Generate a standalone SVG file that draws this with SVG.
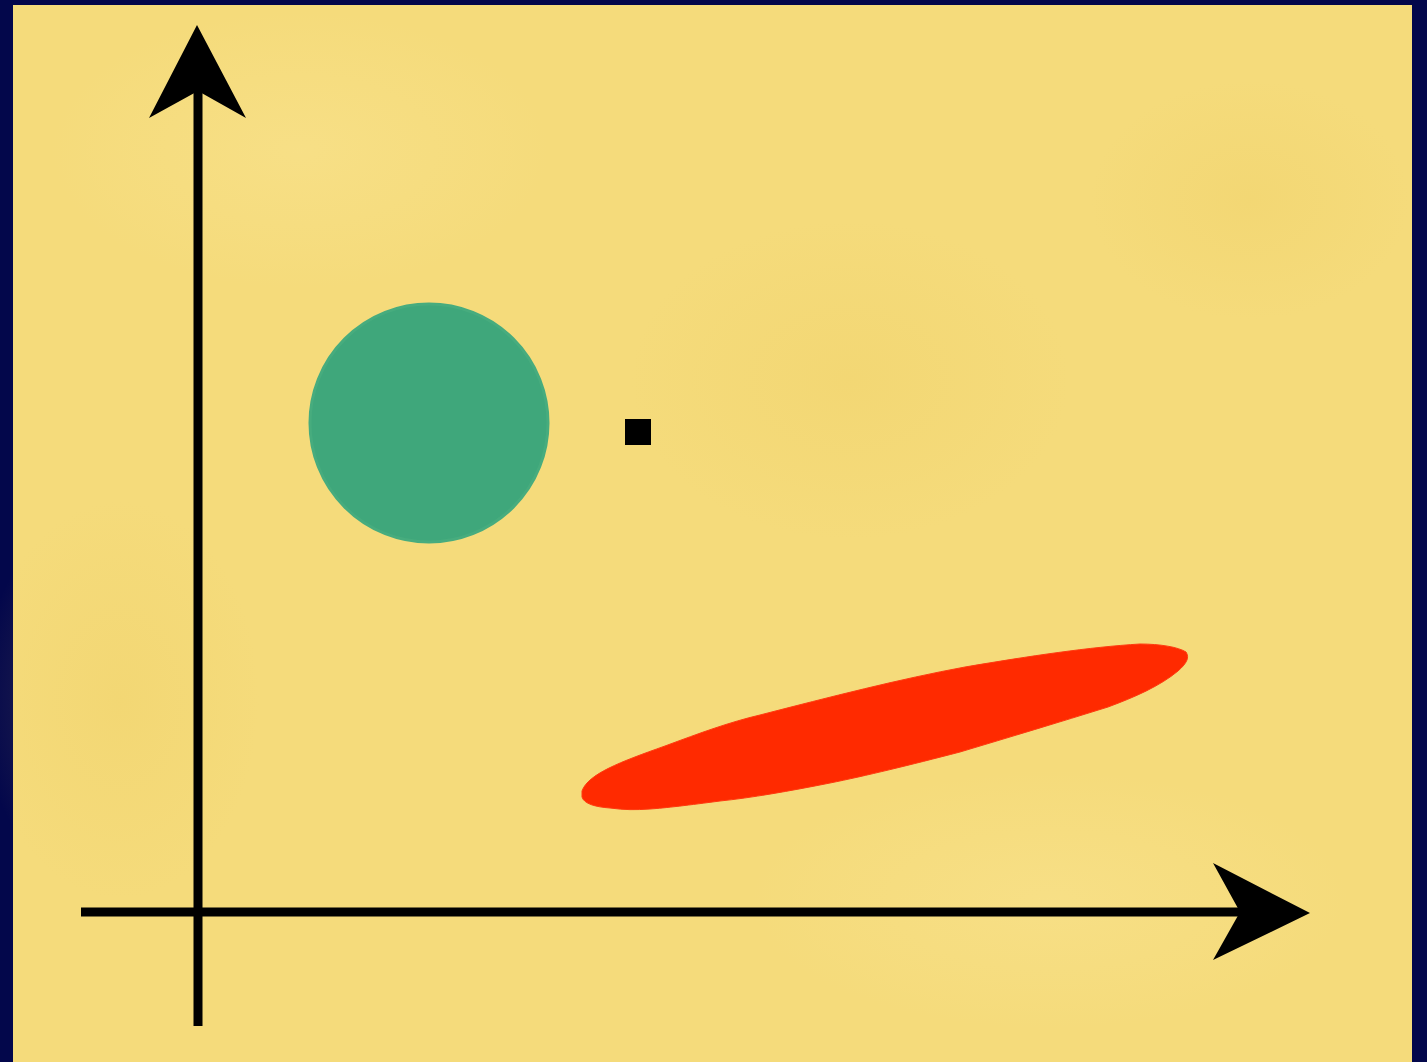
<svg xmlns="http://www.w3.org/2000/svg" width="1427" height="1062" viewBox="0 0 1427 1062">
  <style>
    .axis { stroke: #000; stroke-width: 9; fill: none; }
    .head { fill: #000; }
  </style>
  <defs>
    <radialGradient id="mott1" cx="0.5" cy="0.5" r="0.5">
      <stop offset="0" stop-color="#eccb5e" stop-opacity="0.25"/>
      <stop offset="1" stop-color="#eccb5e" stop-opacity="0"/>
    </radialGradient>
    <radialGradient id="mott2" cx="0.5" cy="0.5" r="0.5">
      <stop offset="0" stop-color="#fbe79a" stop-opacity="0.35"/>
      <stop offset="1" stop-color="#fbe79a" stop-opacity="0"/>
    </radialGradient>
  </defs>
  <rect x="0" y="0" width="1427" height="1062" fill="#03074b"/>
  <g id="background">
    <rect x="13" y="5" width="1399" height="1057" fill="#f5db7b"/>
    <ellipse cx="1250" cy="200" rx="160" ry="120" fill="url(#mott1)"/>
    <ellipse cx="850" cy="380" rx="220" ry="160" fill="url(#mott1)"/>
    <ellipse cx="300" cy="150" rx="250" ry="140" fill="url(#mott2)"/>
    <ellipse cx="1050" cy="900" rx="300" ry="130" fill="url(#mott2)"/>
    <ellipse cx="120" cy="700" rx="140" ry="200" fill="url(#mott1)"/>
  </g>
  <g id="connectors">
    <line class="axis" x1="198" y1="1026" x2="198" y2="85"/>
    <polygon class="head" points="197,25 246,118 198,91 149,118"/>
    <line class="axis" x1="81" y1="912" x2="1245" y2="912"/>
    <polygon class="head" points="1310,913 1213,960 1240,912 1213,863"/>
  </g>
  <g id="circle">
    <circle cx="429" cy="423" r="119" fill="#3fa77b" stroke="#47ac7e" stroke-width="3"/>
  </g>
  <g id="square">
    <rect x="625" y="419" width="26" height="26" fill="#000"/>
  </g>
  <g id="ellipse">
    <path d="M582,791 C588,774 620,762 665,746 C700,733 730,722 760,715 C830,697 900,679 965,667 C1030,656 1090,647 1140,644 C1160,644 1178,647 1186,652 C1190,658 1186,664 1178,671 C1160,686 1135,697 1108,707 C1060,722 1010,737 960,752 C910,765 865,776 830,783 C790,791 750,798 720,801 C690,805 665,808 650,809 C635,810 625,810 610,808 C596,807 584,804 582,797 Z" fill="#ff2a00" stroke="#ff3a10" stroke-width="1"/>
  </g>
</svg>
